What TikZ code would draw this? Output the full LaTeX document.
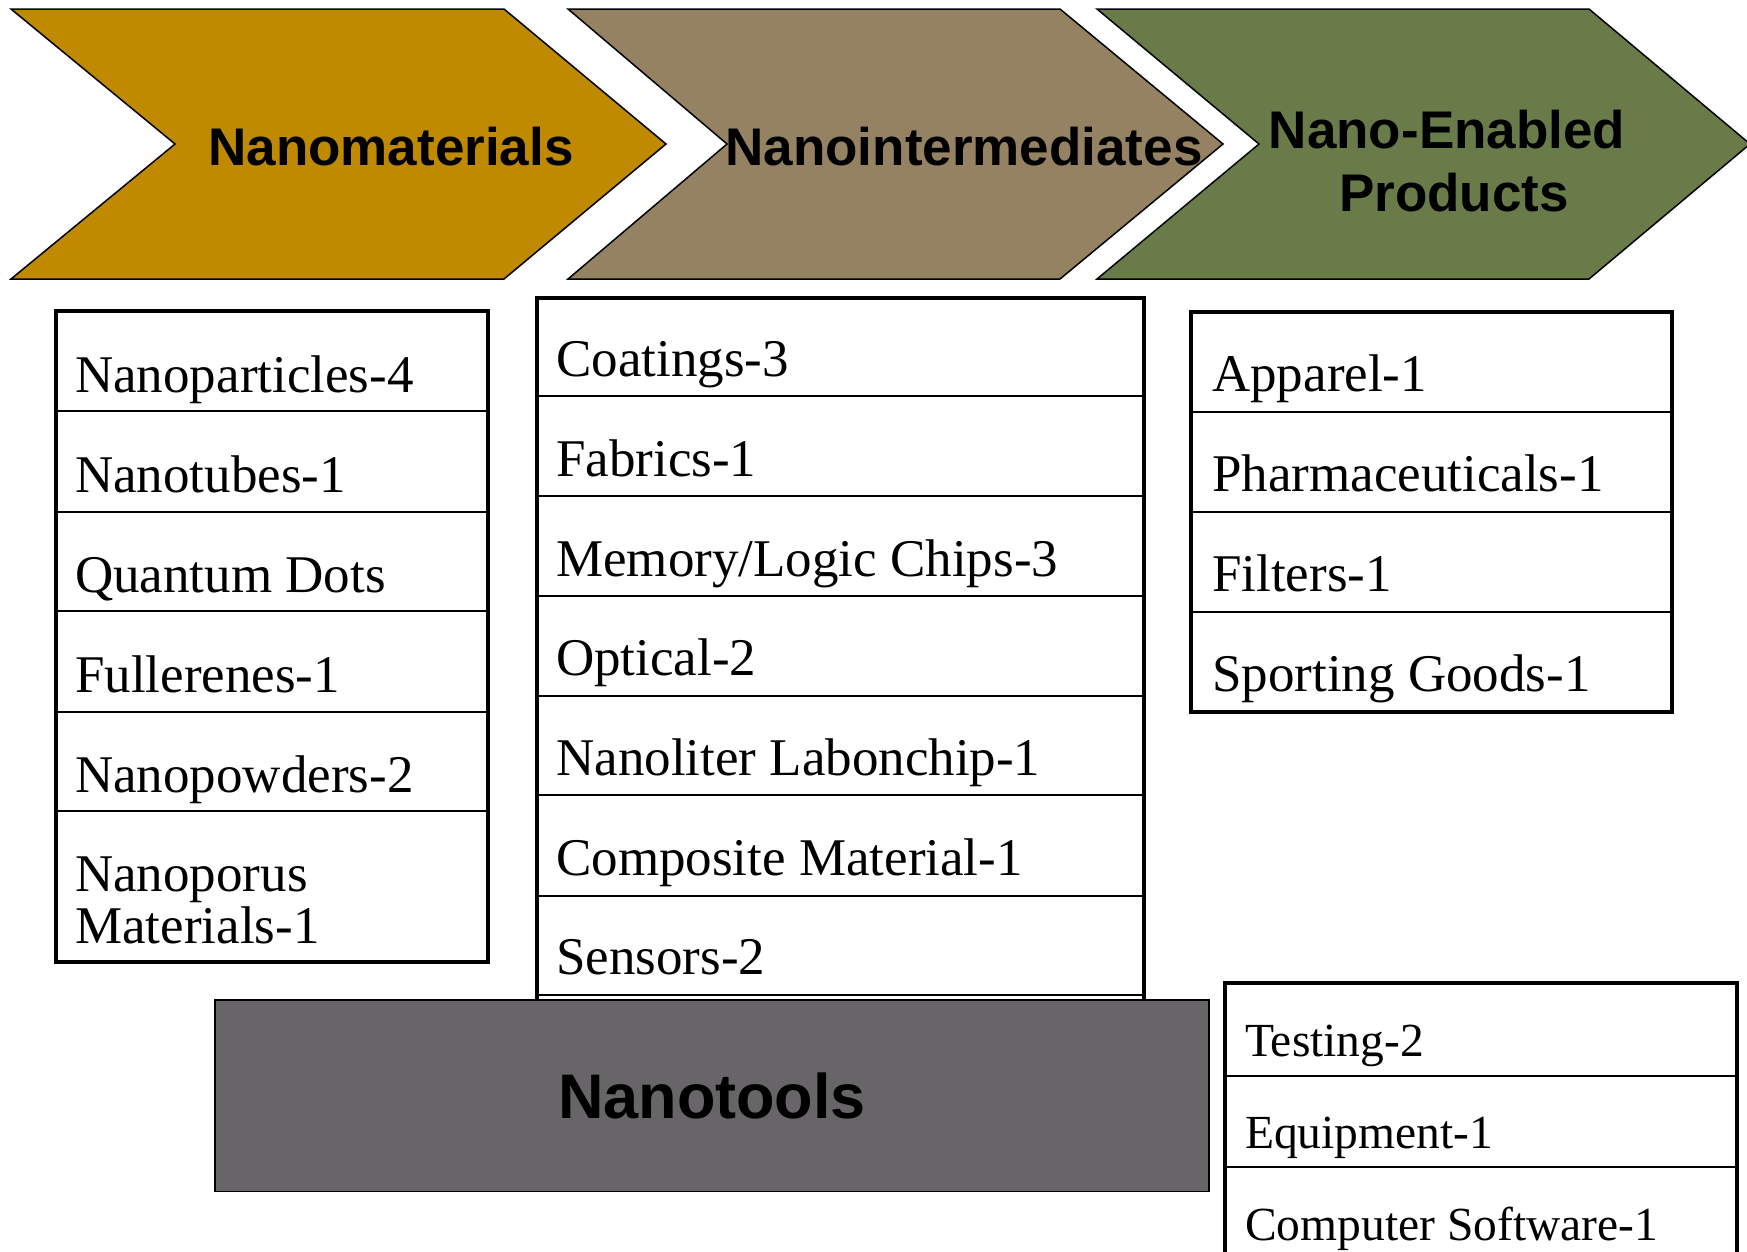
\documentclass[tikz,border=0pt]{standalone}
\usepackage{fontspec}
\setmainfont{Liberation Serif}
\newfontfamily\hfont{Liberation Sans}
\definecolor{cgold}{HTML}{BF8A00}
\definecolor{ctaupe}{HTML}{948262}
\definecolor{colive}{HTML}{6A7B4A}
\definecolor{cgray}{HTML}{676567}
\begin{document}
\begin{tikzpicture}[x=1pt,y=-1pt,
  chev/.style={draw=black, line width=1.5pt, line join=miter},
  head/.style={font=\hfont\bfseries\fontsize{53}{63}\selectfont, inner sep=0pt, anchor=base},
  item/.style={font=\fontsize{53}{52.3}\selectfont, inner sep=0pt, anchor=base west},
  smallitem/.style={font=\fontsize{47.5}{50}\selectfont, inner sep=0pt, anchor=base west},
  outerbox/.style={draw=black, line width=4pt},
  divider/.style={draw=black, line width=2pt}]
\useasboundingbox (0,0) rectangle (1747,1251);
\clip (0,0) rectangle (1747,1251);

% chevrons
\filldraw[chev, fill=cgold] (11,9) -- (504,9) -- (666,144) -- (504,279) -- (11,279) -- (175,144) -- cycle;
\filldraw[chev, fill=ctaupe] (568,9) -- (1060,9) -- (1223,144) -- (1060,279) -- (568,279) -- (727,144) -- cycle;
\filldraw[chev, fill=colive] (1097,9) -- (1589,9) -- (1750,144) -- (1589,279) -- (1097,279) -- (1259,144) -- cycle;
\node[head] (nm) at (391,165) {Nanomaterials};
\node[head] (ni) at (964,165) {Nanointermediates};
\node[head] (nep) at (1447,148) {\begin{tabular}[t]{@{}c@{}}Nano-Enabled\\\hspace*{14pt}Products\end{tabular}};

% left box
\draw[outerbox] (56,311) rectangle (488,962);
\foreach \y in {411,512,611,712,811} \draw[divider] (56,\y) -- (488,\y);
\node[item] (l1) at (75,392) {Nanoparticles-4};
\node[item] (l2) at (75,492) {Nanotubes-1};
\node[item] (l3) at (75,592) {Quantum Dots};
\node[item] (l4) at (75,692) {Fullerenes-1};
\node[item] (l5) at (75,792) {Nanopowders-2};
\node[item] (l6) at (75,891) {\begin{tabular}[t]{@{}l@{}}Nanoporus\\Materials-1\end{tabular}};

% middle box (bottom hidden by Nanotools)
\draw[outerbox] (537,1000) -- (537,298) -- (1144,298) -- (1144,1000);
\foreach \y in {396,496,596,695.5,795,895.5,995} \draw[divider] (537,\y) -- (1144,\y);
\node[item] (m1) at (556,376.5) {Coatings-3};
\node[item] (m2) at (556,476) {Fabrics-1};
\node[item] (m3) at (556,576) {Memory/Logic Chips-3};
\node[item] (m4) at (556,675) {Optical-2};
\node[item] (m5) at (556,775) {Nanoliter Labonchip-1};
\node[item] (m6) at (556,875.5) {Composite Material-1};
\node[item] (m7) at (556,974.5) {Sensors-2};

% right top box
\draw[outerbox] (1191,312) rectangle (1672,712);
\foreach \y in {412,512,612} \draw[divider] (1191,\y) -- (1672,\y);
\node[item] (r1) at (1212,391.7) {Apparel-1};
\node[item] (r2) at (1212,491.7) {Pharmaceuticals-1};
\node[item] (r3) at (1212,591.7) {Filters-1};
\node[item] (r4) at (1212,691.7) {Sporting Goods-1};

% nanotools
\node[draw=black, line width=1.5pt, fill=cgray, minimum width=994pt, minimum height=191.5pt, inner sep=0pt,
      font=\hfont\bfseries\fontsize{63}{70}\selectfont] (nt) at (712,1095.75) {Nanotools};

% bottom right box
\draw[outerbox] (1225,1270) -- (1225,982.7) -- (1737,982.7) -- (1737,1270);
\foreach \y in {1076,1167} \draw[divider] (1225,\y) -- (1737,\y);
\node[smallitem] (b1) at (1245,1056.7) {Testing-2};
\node[smallitem] (b2) at (1245,1148) {Equipment-1};
\node[smallitem] (b3) at (1245,1240) {Computer Software-1};
\end{tikzpicture}
\end{document}
